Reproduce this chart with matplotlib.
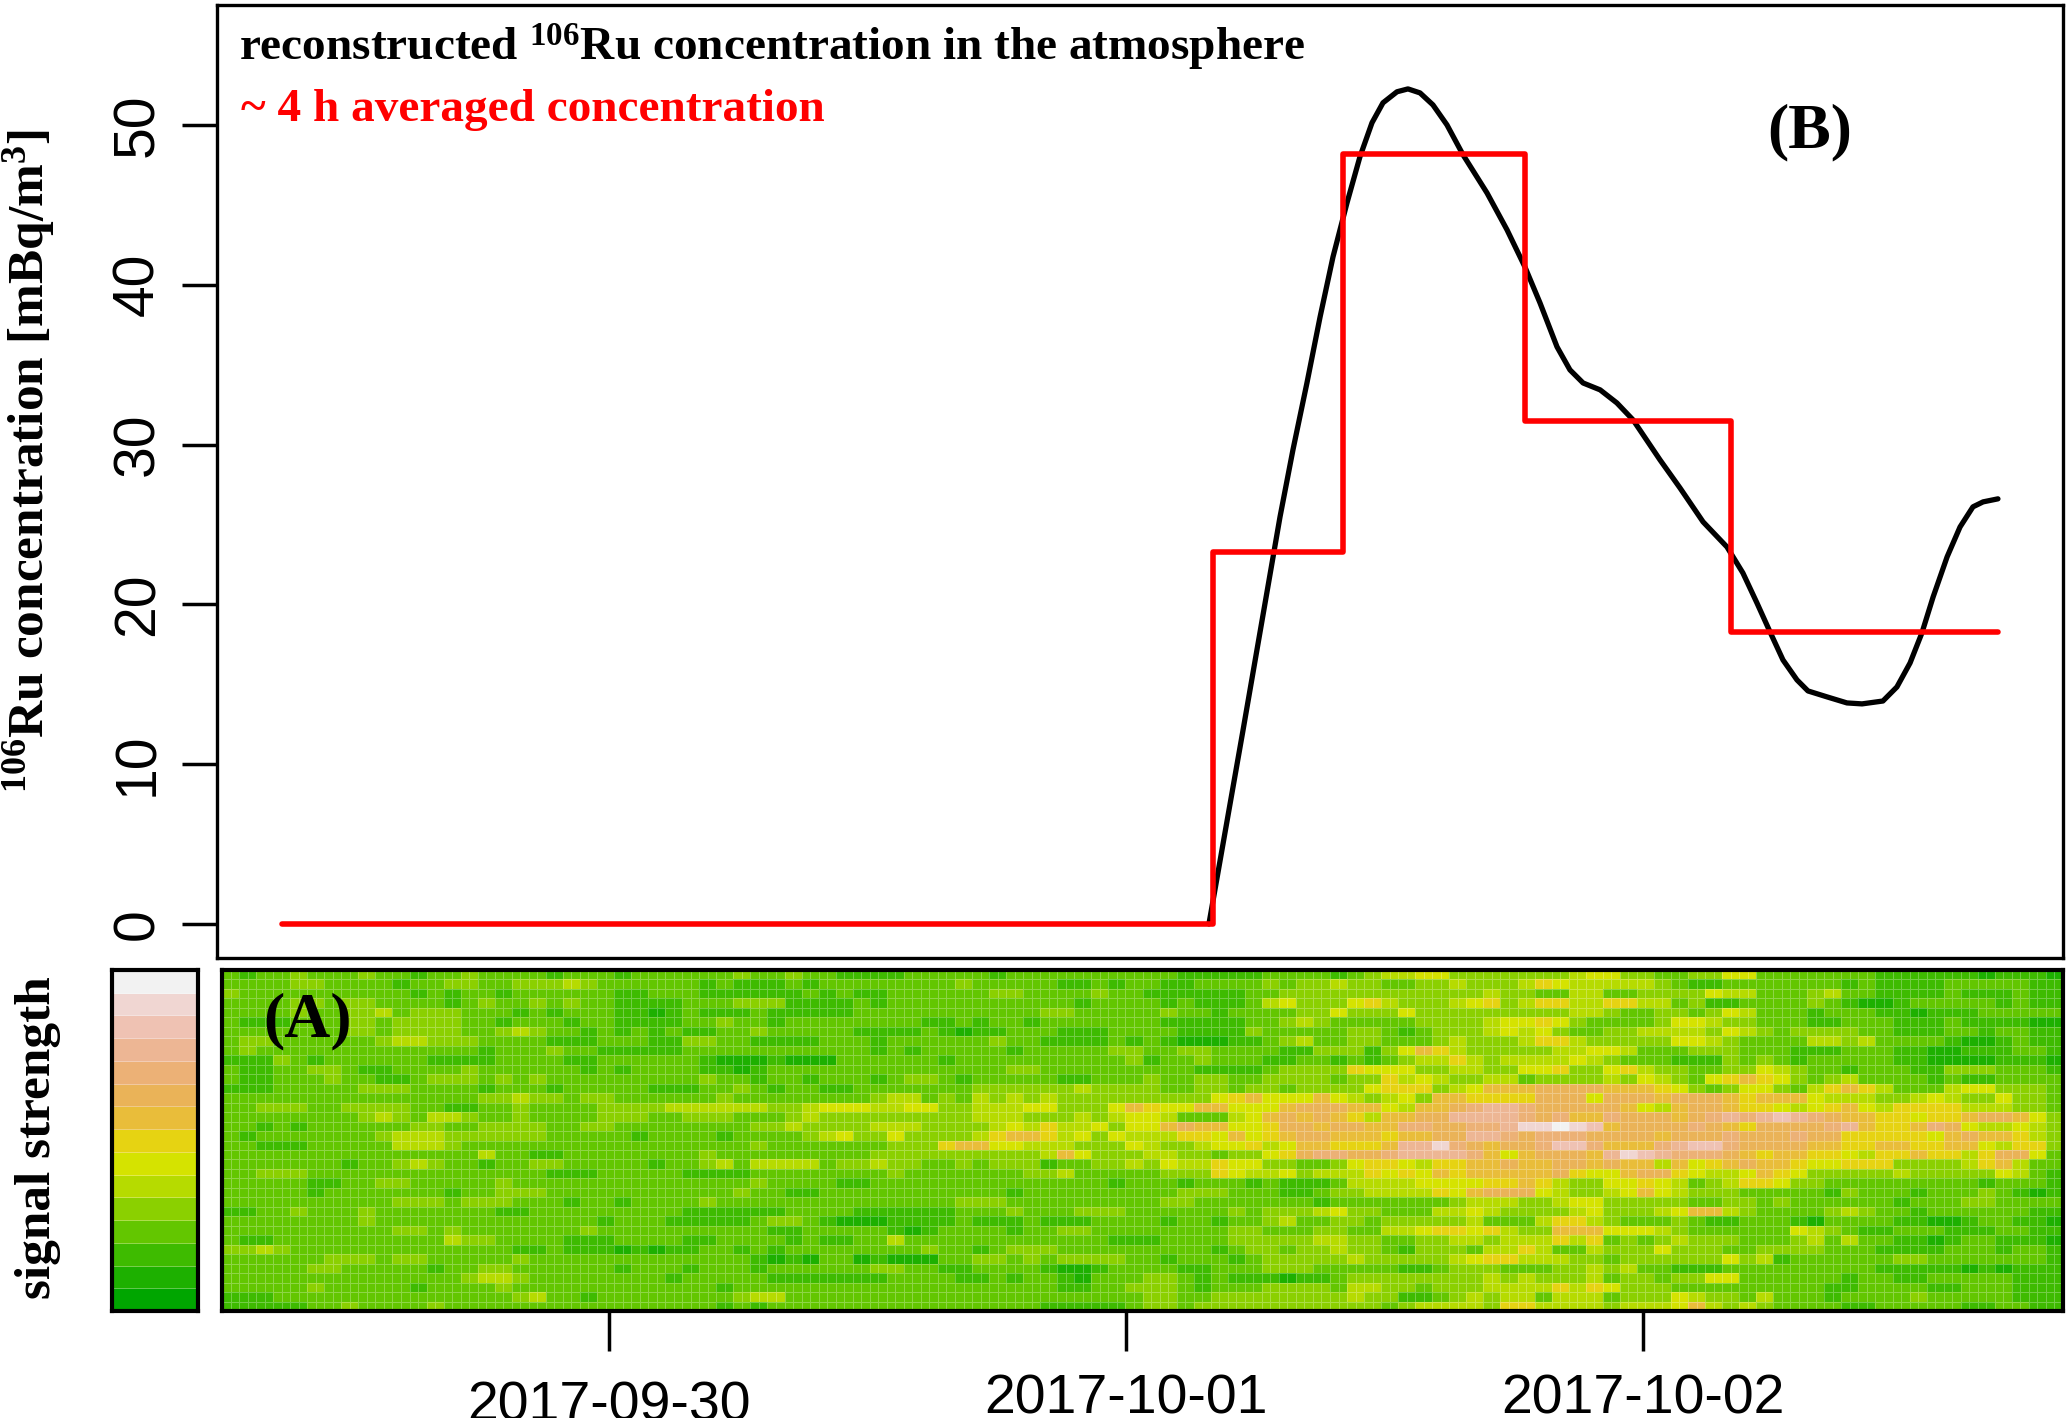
import matplotlib
matplotlib.use("Agg")
import matplotlib.transforms as mtransforms
import numpy as np
from matplotlib import pyplot as plt
from matplotlib.colors import BoundaryNorm, ListedColormap

plt.rcParams["font.family"] = ["Liberation Sans"]
plt.rcParams["mathtext.fontset"] = "custom"
plt.rcParams["mathtext.rm"] = "Liberation Serif:bold"
plt.rcParams["mathtext.default"] = "rm"

# hours relative to 2017-10-01 00:00
curve_hours = [3.85, 5.43, 7.15, 7.75, 8.40, 9.01, 9.61, 10.26, 10.86, 11.42, 11.93, 12.58, 13.09,
               13.65, 14.25, 14.90, 15.65, 16.76, 17.69, 18.52, 19.22, 20.01, 20.61, 21.22, 22.01,
               22.79, 23.54, 24.79, 25.72, 26.79, 27.90, 28.64, 29.29, 29.90, 30.50, 31.15, 31.66,
               32.54, 33.47, 34.17, 35.14, 35.79, 36.40, 36.95, 37.47, 38.12, 38.72, 39.32, 39.79,
               40.48]
curve_conc = [0.0, 12.1, 25.47, 29.66, 33.85, 37.98, 41.74, 45.12, 48.0, 50.13, 51.38, 52.07, 52.25,
              52.0, 51.25, 50.0, 48.12, 45.74, 43.43, 41.11, 38.86, 36.11, 34.67, 33.85, 33.42,
              32.6, 31.54, 29.04, 27.28, 25.16, 23.59, 21.96, 20.09, 18.27, 16.52, 15.27, 14.58,
              14.21, 13.83, 13.77, 13.95, 14.83, 16.33, 18.21, 20.46, 22.97, 24.84, 26.1, 26.41,
              26.6]

# start of each averaging step, last entry is the end of the last step
step_hours = [-39.18, 4.04, 10.07, 18.52, 28.09, 40.48]
step_conc = [0.0, 23.3, 48.2, 31.5, 18.27]

y_ticks = [0, 10, 20, 30, 40, 50]
date_ticks = [-24, 0, 24]
date_labels = ["2017-09-30", "2017-10-01", "2017-10-02"]

level_colors = ["#00A600", "#1DB000", "#3EBB00", "#63C600", "#8BD000", "#B6DB00", "#D5E300",
                "#E6D312", "#E9BD3A", "#EAB358", "#ECB176", "#EDB694", "#EFC2B3", "#F0D6D2",
                "#F2F2F2"]

# signal levels (hex index into level_colors), top row first, 4 blocks left to right.
# each character stands for two cells of the picture
heat_a = [
    "323343334 332334333 323332333", "333344333 323344334 445433333", "433333333 332323323 333332233",
    "333344344 333323433 434332222", "333343344 534443332 323332212", "322233344 344443323 332332222",
    "333333344 344443345 433232323", "344333333 455444333 322233322", "343333333 333333233 343322222",
    "222432333 333222233 332233333", "322334432 233334333 333232333", "322333433 223444343 433333333",
    "222333334 443333233 323333322", "333333333 333333445 443443333", "334443344 443322334 333344445",
    "333333334 543554334 333344433", "332323333 334433444 433443333", "323333333 455544444 433333233",
    "332223333 355543333 333333333", "333333333 333333533 223333333", "333333323 345433233 443333323",
    "334443333 333333333 322233333", "333332233 443333343 333333333", "333332333 333323344 433333333",
    "333333333 344434443 332332333", "223343334 333333322 333333333", "333333334 333333333 333323332",
    "333333333 344343333 333433333", "322333333 333354433 332223333", "445433333 333333332 232221212",
    "333333444 344333334 333333333", "333334433 333233443 333332333", "333333333 333334554 333333332",
    "333334333 332333343 333333333", "222333333 333333334 533233333", "222223343 333433333 333333333",
]
heat_b = [
    "333433433 222233333 233333333", "323222323 333333343 333322323", "322222232 322333333 443333433",
    "333444222 232333333 333332333", "322232222 233333333 333443333", "334332333 333332232 332333333",
    "223343333 322223212 233322233", "443322223 332333333 433222232", "333333333 332323333 323333344",
    "321112111 333333233 333333334", "322123333 333333333 344333333", "343323323 332344323 333322333",
    "233432332 233333334 444445444", "334333333 334553435 454544444", "555554456 665566445 556644468",
    "444333454 444444445 554445456", "333344544 445554444 565755646", "332333345 644644445 788756465",
    "333343333 333444788 665554446", "343333333 334444444 444586444", "345355553 445443343 444233445",
    "222233333 333433333 334453333", "333343333 223333333 333333323", "333433223 333333333 323333333",
    "343333333 333333344 433333333", "222222333 322222233 343334443", "222234432 111222232 223222333",
    "333332233 333212333 323344333", "223333232 233533333 333333322", "233232333 333334332 344433333",
    "333321213 312111334 434344443", "233323333 334433223 333211233", "333332222 222333322 323321333",
    "332333333 333333333 333322334", "333455333 333333333 333333333", "332323333 333333333 333222223",
]
heat_c = [
    "332222233 332345566 444444456", "322333343 445443344 544457655", "222222334 444444444 445443355",
    "323222356 444675444 567457755", "343323333 446444644 444444455", "322222334 543333344 445667643",
    "332222433 333443234 445656433", "321112234 533443334 544457754", "334433332 244424687 544444556",
    "233433322 332323455 754555565", "333222234 444766644 554466744", "433443344 443447565 445534444",
    "433443443 444467774 568889999", "444467866 686545648 877779996", "766886668 999886588 9ABBA9999",
    "653335689 898758899 BBBBA9A88", "689886679 989988AA9 9AABDDEDC", "557768678 998887889 9BBA9AAA9",
    "544566756 887778BBD A9899ACCA", "554434467 9AA99ABBB BA8689998", "465576644 334677657 788988998",
    "344476556 455576768 788888976", "332333232 223555566 667787544", "334443332 234455557 689996544",
    "344333333 323333333 455544566", "333334344 456443335 565444456", "323323345 334434444 453335775",
    "333334433 344335567 767544888", "233334444 455443344 554555757", "333323443 445443244 435575335",
    "323332344 444544444 567755544", "332233344 433333223 444333445", "443232221 223444444 445454445",
    "443233344 443554434 445555757", "443344444 444544223 454553555", "443444444 444443455 554775555",
]
heat_d = [
    "644334466 333333322 222212221", "555432233 333332322 223333322", "334444655 333453322 223222322",
    "775534223 333432112 333332322", "433443465 333233322 122233333", "333466544 333223332 223222211",
    "445555465 434444332 223323322", "444466543 333554533 332112322", "653334443 332223332 211222332",
    "433322243 432333332 211112221", "675443344 654332333 224443332", "546543678 764345333 323223333",
    "888764346 643578753 335664443", "999899987 888655544 565446443", "986589987 765678657 777555443",
    "A99989ABA BCBA98877 677899864", "89999A987 9999AB877 8A9655654", "9998999A9 99A997777 768988754",
    "888ABCCA9 999887788 778865774", "BDCBAAA98 788776577 877579963", "988586789 887667774 444578533",
    "689976556 876444445 444446532", "667653457 764433333 333323332", "568654443 333324333 233343212",
    "444443344 343333332 333443333", "444568854 333345433 233333322", "433343223 332133332 211233221",
    "666543333 336543223 332223322", "343454443 334535332 212332221", "444644433 444433322 223332332",
    "344444464 523333334 433333332", "453322233 333333322 222121222", "344344663 333332332 233333222",
    "644433333 333322333 322333222", "344465443 533323333 433333222", "455568545 433332233 333223322",
]


def parse_block(rows):
    return np.array([[int(ch, 16) for ch in row.replace(" ", "")] for row in rows])


W, H = 2067, 1418
heat = np.hstack([parse_block(b) for b in (heat_a, heat_b, heat_c, heat_d)])
heat = np.repeat(heat, 2, axis=1)

cmap = ListedColormap(level_colors)
norm = BoundaryNorm(np.arange(-0.5, 15.5), 15)


def px_axes(fig, left, top, right, bottom):
    return fig.add_axes([left / W, 1 - bottom / H, (right - left) / W, (bottom - top) / H])


fig = plt.figure(figsize=(W / 100, H / 100), dpi=100)

## Top panel
ax = px_axes(fig, 217, 5, 2063, 958)
ax.plot(curve_hours, curve_conc, color="black", lw=3.8, solid_capstyle="round", solid_joinstyle="round")
ax.stairs(step_conc, step_hours, color="red", lw=4.0, baseline=None, zorder=3,
          joinstyle="round", capstyle="round")
ax.set_xlim(-42.2, 43.5)
ax.set_ylim(-2.13, 57.5)
ax.set_xticks([])
ax.set_yticks(y_ticks)
ax.set_yticklabels(y_ticks, rotation=90, va="center", fontsize=41)
ax.tick_params(axis="y", length=25, width=2.5, pad=12)
for s in ax.spines.values():
    s.set_linewidth(2.4)

## Heat map
ax2 = px_axes(fig, 222, 970, 2063, 1311)
x_edges = np.linspace(-41.97, 43.5, heat.shape[1] + 1)
y_edges = np.arange(heat.shape[0] + 1)
ax2.pcolormesh(x_edges, y_edges, heat, cmap=cmap, norm=norm, edgecolors=(1, 1, 1, 0.28), linewidth=0.6)
ax2.set_xlim(-41.97, 43.5)
ax2.set_ylim(heat.shape[0], 0)
ax2.set_yticks([])
ax2.set_xticks(date_ticks)
ax2.set_xticklabels(date_labels, fontsize=40)
ax2.tick_params(axis="x", length=29, width=2.5, pad=16)
for s in ax2.spines.values():
    s.set_linewidth(3)
# the first date label sits a little lower in the original
first = ax2.get_xticklabels()[0]
first.set_transform(first.get_transform() + mtransforms.ScaledTranslation(0, -7 / 100, fig.dpi_scale_trans))

## Colour key
ax3 = px_axes(fig, 112, 970, 198, 1311)
levels = np.arange(15).reshape(-1, 1)
ax3.pcolormesh([0, 1], np.arange(16), levels, cmap=cmap, norm=norm, edgecolors=(1, 1, 1, 0.3), linewidth=0.5)
ax3.set_xticks([])
ax3.set_yticks([])
for s in ax3.spines.values():
    s.set_linewidth(3)

## Text
serif = {"family": ["Liberation Serif"], "weight": "bold"}
fig.text(239 / W, 1 - 61 / H, "reconstructed $^{106}$Ru concentration in the atmosphere",
         fontsize=34, color="black", **serif)
fig.text(241 / W, 1 - 121 / H, "~ 4 h averaged concentration", fontsize=34, color="red", **serif)
fig.text(1810 / W, 1 - 132 / H, "(B)", fontsize=46, ha="center", va="center", **serif)
fig.text(308 / W, 1 - 1021 / H, "(A)", fontsize=46, ha="center", va="center", **serif)
fig.text(29 / W, 1 - 461 / H, "$^{106}$Ru concentration [mBq/m$^{3}$]", fontsize=37, rotation=90,
         ha="center", va="center", **serif)
fig.text(38 / W, 1 - 1138 / H, "signal strength", fontsize=37, rotation=90, ha="center", va="center", **serif)

plt.savefig("out.png", dpi=100)
